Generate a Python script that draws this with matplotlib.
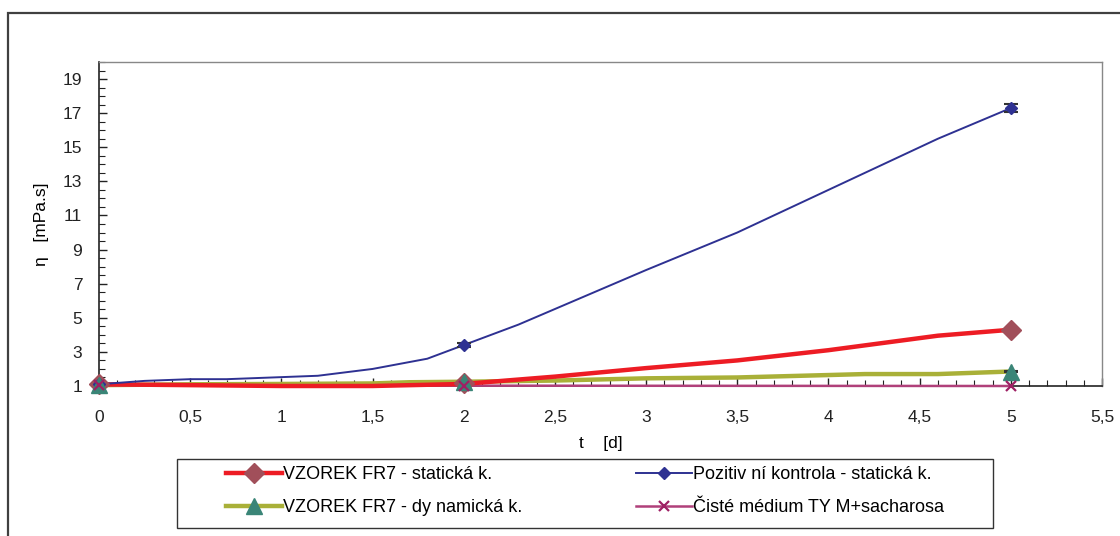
import matplotlib
matplotlib.use('Agg')
import matplotlib.pyplot as plt
from matplotlib.ticker import MultipleLocator, FuncFormatter
from matplotlib.patches import Rectangle
from matplotlib.lines import Line2D

plt.rcParams['font.family'] = ['Liberation Sans', 'DejaVu Sans']

# points where the measurements were taken (markers + error bars)
t_meas = [0, 2, 5]

# VZOREK FR7 - staticka k.
red_t = [0, 0.5, 1, 1.5, 2, 2.5, 3, 3.5, 4, 4.6, 5]
red_y = [1.1, 1.05, 1.0, 1.0, 1.12, 1.55, 2.05, 2.5, 3.1, 3.95, 4.3]
red_m = [1.1, 1.15, 4.3]
red_err = [0.05, 0.05, 0.05]

# Pozitivni kontrola - staticka k.
blue_t = [0, 0.25, 0.5, 0.7, 1.2, 1.5, 1.8, 2, 2.3, 3, 3.5, 4, 4.6, 5]
blue_y = [1.1, 1.3, 1.4, 1.4, 1.6, 2.0, 2.6, 3.4, 4.6, 7.8, 10.0, 12.5, 15.5, 17.3]
blue_m = [1.1, 3.4, 17.3]
blue_err = [0.05, 0.1, 0.25]

# VZOREK FR7 - dynamicka k.
olive_t = [0, 0.5, 1, 1.5, 1.7, 2, 2.5, 3, 3.5, 4.2, 4.6, 5]
olive_y = [1.05, 1.1, 1.12, 1.15, 1.22, 1.25, 1.32, 1.45, 1.5, 1.7, 1.7, 1.85]
olive_m = [1.05, 1.25, 1.85]
olive_err = [0.05, 0.05, 0.05]

# Ciste medium
purple_t = [0, 2, 5]
purple_y = [1.05, 1.02, 1.0]
purple_m = [1.05, 1.02, 1.0]

labels = ['VZOREK FR7 - statická k.', 'Pozitiv ní kontrola - statická k.',
          'VZOREK FR7 - dy namická k.', 'Čisté médium TY M+sacharosa']

fig = plt.figure(figsize=(11.2, 5.36), dpi=100)
ax = fig.add_axes([99/1120, 1 - 386/536, (1102-99)/1120, (386-62)/536])

# outer frame + legend frame
fig.patches.append(Rectangle((8/1120, -0.2), 1.2, 1.2 - 13/536, transform=fig.transFigure,
                             fill=False, lw=1.6, ec='#404040'))
fig.patches.append(Rectangle((177/1120, 1 - 528/536), 816/1120, 69/536, transform=fig.transFigure,
                             fill=False, lw=1, ec='#333333'))

ax.plot(olive_t, olive_y, color='#A9B038', lw=3.2, zorder=3, clip_on=False)
ax.plot(red_t, red_y, color='#ED1C24', lw=3.2, zorder=4, clip_on=False)
ax.plot(purple_t, purple_y, color='#B0407A', lw=1.8, zorder=3, clip_on=False)
ax.plot(blue_t, blue_y, color='#2E3192', lw=1.4, zorder=5, clip_on=False)

eb = dict(fmt='none', ecolor='#333333', elinewidth=1, capsize=5, capthick=1.5, zorder=6)
ax.errorbar(t_meas, red_m, yerr=red_err, **eb)
ax.errorbar(t_meas, blue_m, yerr=blue_err, **eb)
ax.errorbar(t_meas, olive_m, yerr=olive_err, **eb)

ax.plot(t_meas, red_m, 'D', color='#A14F5A', ms=10, zorder=7, clip_on=False)
ax.plot(t_meas, blue_m, 'D', color='#2E3192', ms=6, zorder=7, clip_on=False)
ax.plot(t_meas, olive_m, '^', color='#3A8577', ms=12, zorder=8, clip_on=False)
ax.plot(t_meas, purple_m, 'x', color='#9E2064', ms=7, mew=1.6, zorder=9, clip_on=False)

ax.set_xlim(0, 5.5)
ax.set_ylim(1, 20)
ax.xaxis.set_major_locator(MultipleLocator(0.5))
ax.xaxis.set_minor_locator(MultipleLocator(0.1))
ax.yaxis.set_minor_locator(MultipleLocator(0.5))
ax.set_yticks([1, 3, 5, 7, 9, 11, 13, 15, 17, 19])
ax.xaxis.set_major_formatter(FuncFormatter(lambda v, p: ('%g' % v).replace('.', ',')))
ax.tick_params(which='both', direction='in', colors='#222222', labelsize=12.5)
ax.tick_params(which='major', length=6, width=1)
ax.tick_params(which='minor', length=4, width=0.8)
ax.tick_params(axis='x', pad=17)
ax.tick_params(axis='y', pad=12)
for s in ['left', 'bottom']:
    ax.spines[s].set_color('#222222')
    ax.spines[s].set_linewidth(1.2)
for s in ['top', 'right']:
    ax.spines[s].set_color('#888888')
    ax.spines[s].set_linewidth(1)

ax.set_xlabel('t    [d]', fontsize=12.5, labelpad=8)
ax.set_ylabel('η   [mPa.s]', fontsize=12.5, labelpad=10)

h_red = Line2D([], [], color='#ED1C24', lw=3.2, marker='D', ms=10, mfc='#A14F5A', mec='#A14F5A')
h_blue = Line2D([], [], color='#2E3192', lw=1.4, marker='D', ms=6)
h_olive = Line2D([], [], color='#A9B038', lw=3.2, marker='^', ms=12, mfc='#3A8577', mec='#3A8577')
h_purple = Line2D([], [], color='#B0407A', lw=1.8, marker='x', ms=7, mew=1.6, mec='#9E2064')
leg = fig.legend([h_red, h_olive, h_blue, h_purple],
                 [labels[0], labels[2], labels[1], labels[3]],
                 ncol=2, loc='upper left', bbox_to_anchor=(226/1120, 1 - 466/536),
                 fontsize=13, frameon=False, borderpad=0, borderaxespad=0,
                 handlelength=3.1, handletextpad=0.05, columnspacing=6.3,
                 labelspacing=0.88)

fig.savefig('out.png', dpi=100)
